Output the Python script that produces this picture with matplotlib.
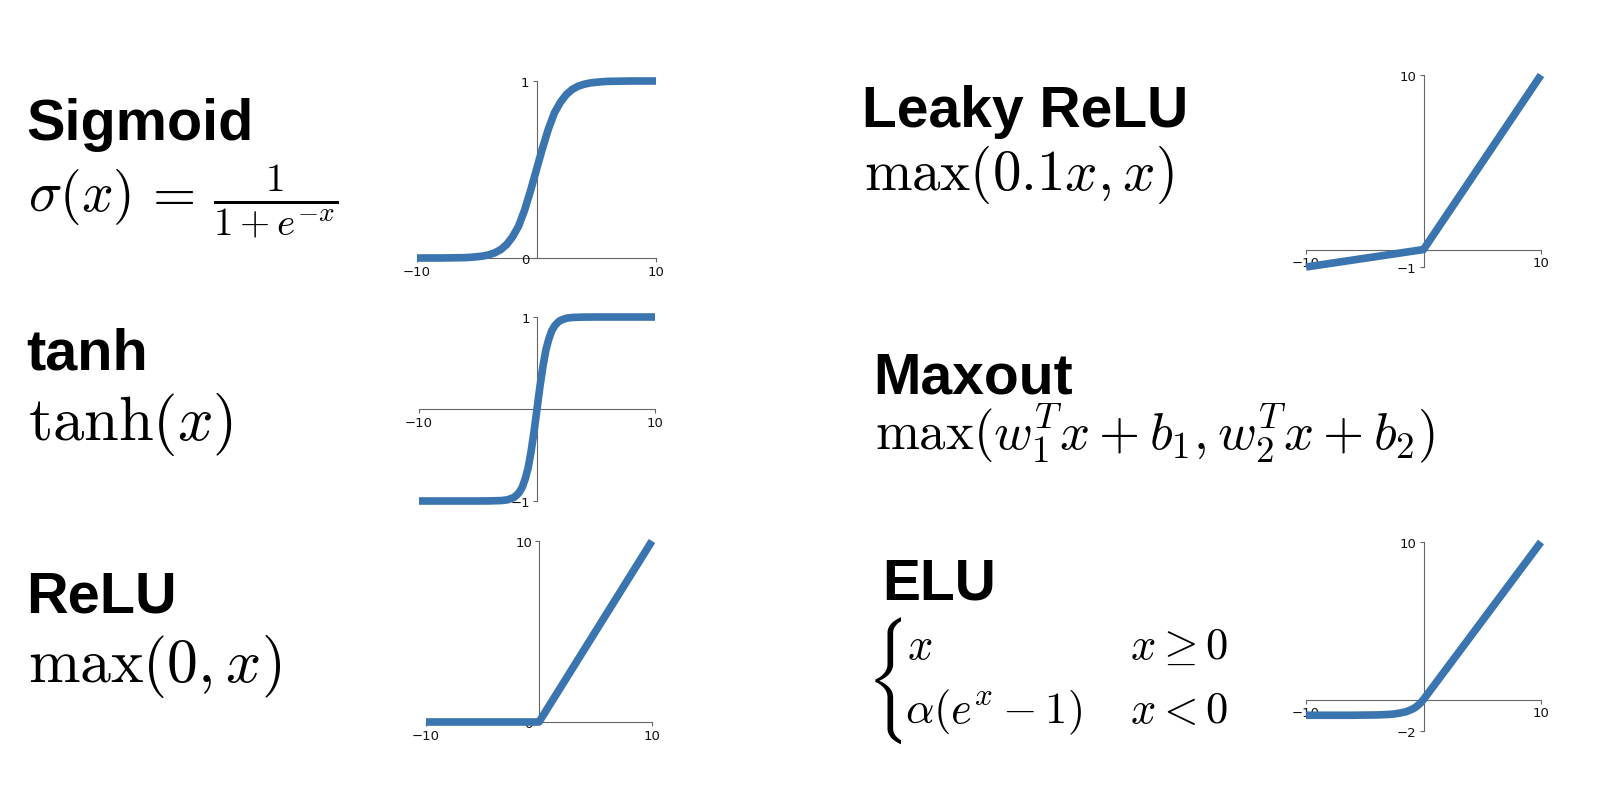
import matplotlib
matplotlib.use("Agg")
import matplotlib.pyplot as plt
from matplotlib.transforms import Bbox, TransformedBbox

plt.rcParams["mathtext.fontset"] = "cm"

LINE_COLOR = "#3b75af"
SPINE_COLOR = "#666666"

# curve samples
sigmoid_x = [-10, -8, -6, -5.5, -5, -4.5, -4, -3.5, -3, -2.5, -2, -1.5, -1, -0.5, 0,
             0.5, 1, 1.5, 2, 2.5, 3, 3.5, 4, 4.5, 5, 5.5, 6, 8, 10]
sigmoid_y = [0.0, 0.0, 0.002, 0.004, 0.007, 0.011, 0.018, 0.029, 0.047, 0.076, 0.12, 0.18, 0.27, 0.38, 0.5,
             0.62, 0.73, 0.82, 0.88, 0.924, 0.953, 0.971, 0.982, 0.989, 0.993, 0.996, 0.998, 1.0, 1.0]

tanh_x = [-10, -5, -4, -3, -2.5, -2, -1.75, -1.5, -1.25, -1, -0.75, -0.5, -0.25, 0,
          0.25, 0.5, 0.75, 1, 1.25, 1.5, 1.75, 2, 2.5, 3, 4, 5, 10]
tanh_y = [-1.0, -1.0, -0.999, -0.995, -0.987, -0.964, -0.94, -0.905, -0.85, -0.76, -0.64, -0.46, -0.245, 0.0,
          0.245, 0.46, 0.64, 0.76, 0.85, 0.905, 0.94, 0.964, 0.987, 0.995, 0.999, 1.0, 1.0]

relu_x = [-10, 0, 10]
relu_y = [0, 0, 10]

leaky_x = [-10, 0, 10]
leaky_y = [-1, 0, 10]

elu_x = [-10, -6, -5, -4, -3, -2.5, -2, -1.5, -1, -0.75, -0.5, -0.25, 0, 10]
elu_y = [-1.0, -1.0, -0.99, -0.98, -0.95, -0.92, -0.86, -0.78, -0.63, -0.53, -0.39, -0.22, 0.0, 10]

# tick values shown on each panel
x_ticks = [-10, 10]
sigmoid_yticks = [0, 1]
tanh_yticks = [-1, 1]
relu_yticks = [0, 10]
leaky_yticks = [-1, 10]
elu_yticks = [-2, 10]


def panel(figure, rect, xs, ys, yticks):
    axis = figure.add_axes(rect)
    axis.plot(xs, ys, color=LINE_COLOR, linewidth=5.5, clip_on=False, solid_capstyle="butt")
    axis.set_xlim(x_ticks[0], x_ticks[-1])
    axis.set_ylim(yticks[0], yticks[-1])
    axis.set_xticks(x_ticks)
    axis.set_yticks(yticks)
    axis.spines["left"].set_position(("data", 0))
    axis.spines["bottom"].set_position(("data", 0))
    axis.spines["top"].set_visible(False)
    axis.spines["right"].set_visible(False)
    for side in ("left", "bottom"):
        axis.spines[side].set_color(SPINE_COLOR)
        axis.spines[side].set_linewidth(0.8)
        axis.spines[side].set_zorder(0)
    axis.tick_params(length=3, width=0.8, color=SPINE_COLOR, labelsize=9.5, labelcolor="#111111", pad=2)
    axis.patch.set_alpha(0)
    return axis


W, H = 1614, 812
figure = plt.figure(figsize=(W / 100, H / 100), dpi=100)


def px_rect(left, right, top, bottom):
    return [left / W, 1 - bottom / H, (right - left) / W, (bottom - top) / H]


def px_text(x, y, s, **kw):
    return figure.text(x / W, 1 - y / H, s, va="baseline", ha="left", **kw)


panel(figure, px_rect(417, 656, 82, 259), sigmoid_x, sigmoid_y, sigmoid_yticks)
panel(figure, px_rect(419, 655, 318, 502), tanh_x, tanh_y, tanh_yticks)
panel(figure, px_rect(426, 652, 542, 723), relu_x, relu_y, relu_yticks)
panel(figure, px_rect(1306, 1541, 76, 268), leaky_x, leaky_y, leaky_yticks)
panel(figure, px_rect(1306, 1541, 543, 732), elu_x, elu_y, elu_yticks)

title_kw = dict(family="Liberation Sans", weight="bold", color="black")
px_text(26, 140, "Sigmoid", fontsize=41.5, **title_kw)
px_text(26, 370, "tanh", fontsize=41.5, **title_kw)
px_text(26, 613, "ReLU", fontsize=41.5, **title_kw)
px_text(862, 127, "Leaky ReLU", fontsize=41, **title_kw)
px_text(873, 394, "Maxout", fontsize=41, **title_kw)
px_text(882, 600, "ELU", fontsize=41, **title_kw)

px_text(28, 212, r"$\sigma(x)\,=\,\frac{1}{1+e^{-x}}$", fontsize=40)
px_text(28, 440, r"$\tanh(x)$", fontsize=45)
px_text(28, 682, r"$\max(0, x)$", fontsize=44.5)
px_text(864, 190, r"$\max(0.1x, x)$", fontsize=41)
px_text(875, 449, r"$\max(w_1^Tx + b_1, w_2^Tx + b_2)$", fontsize=38)

# ELU piecewise definition: the brace is a sized delimiter, its filler is clipped away
brace = figure.text(866 / W, 1 - 681 / H,
                    r"$\left\{\genfrac{}{}{0}{0}{x\hspace{-0.6}}{\genfrac{}{}{0}{0}{x\hspace{-0.6}}{x\hspace{-0.6}}}\right.$",
                    fontsize=48, va="center", ha="left")
brace.set_clip_box(TransformedBbox(Bbox.from_extents(0, 0, 901 / W, 1), figure.transFigure))
brace.set_clip_on(True)
px_text(907, 659, r"$x$", fontsize=32)
px_text(905, 723, r"$\alpha(e^x - 1)$", fontsize=32)
px_text(1130, 659, r"$x \geq 0$", fontsize=32)
px_text(1130, 723, r"$x < 0$", fontsize=32)

figure.savefig("out.png", dpi=100)
